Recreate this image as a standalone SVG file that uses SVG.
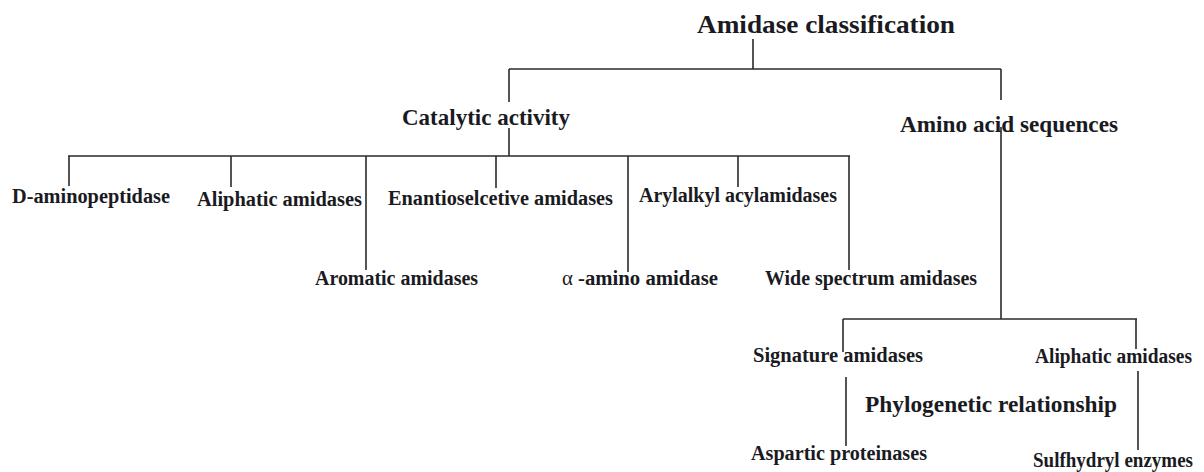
<svg xmlns="http://www.w3.org/2000/svg" width="1204" height="472" viewBox="0 0 1204 472">
<style>
  .bg { fill: #ffffff; }
  .conn line { stroke: #2a2a2a; stroke-width: 1.6; stroke-linecap: butt; }
  text { font-family: "Liberation Serif", "Times New Roman", serif; font-weight: bold; fill: #1a1a22; }
  .title { font-size: 26px; }
  .mid { font-size: 23px; }
  .leaf { font-size: 20px; }
  .greek { font-weight: normal; }
</style>
<rect class="bg" x="0" y="0" width="1204" height="472"/>

<g id="connectors" class="conn">
  <!-- root -->
  <line x1="753" y1="39" x2="753" y2="69"/>
  <line x1="509" y1="69" x2="1001" y2="69"/>
  <line x1="509" y1="69" x2="509" y2="102"/>
  <line x1="1001" y1="69" x2="1001" y2="100"/>
  <!-- catalytic activity -->
  <line x1="509" y1="128" x2="509" y2="156"/>
  <line x1="68" y1="156" x2="850" y2="156"/>
  <line x1="69" y1="156" x2="69" y2="186"/>
  <line x1="231" y1="156" x2="231" y2="187"/>
  <line x1="366" y1="156" x2="366" y2="270"/>
  <line x1="496" y1="156" x2="496" y2="188"/>
  <line x1="628" y1="156" x2="628" y2="272"/>
  <line x1="738" y1="156" x2="738" y2="187"/>
  <line x1="849" y1="156" x2="849" y2="270"/>
  <!-- amino acid sequences -->
  <line x1="1001" y1="127" x2="1001" y2="319"/>
  <line x1="843" y1="319" x2="1137" y2="319"/>
  <line x1="843" y1="319" x2="843" y2="352"/>
  <line x1="1136" y1="319" x2="1136" y2="349"/>
  <!-- phylogenetic -->
  <line x1="846" y1="377" x2="846" y2="446"/>
  <line x1="1138" y1="371" x2="1138" y2="450"/>
</g>

<g id="node-root"><text class="title" x="697" y="33" textLength="258" lengthAdjust="spacingAndGlyphs">Amidase classification</text></g>
<g id="node-catalytic"><text class="mid" x="402" y="125" textLength="168" lengthAdjust="spacingAndGlyphs">Catalytic activity</text></g>
<g id="node-amino"><text class="mid" x="900" y="132" textLength="218" lengthAdjust="spacingAndGlyphs">Amino acid sequences</text></g>

<g id="node-daminopeptidase"><text class="leaf" x="12" y="203" textLength="158" lengthAdjust="spacingAndGlyphs">D-aminopeptidase</text></g>
<g id="node-aliphatic1"><text class="leaf" x="197" y="206" textLength="165" lengthAdjust="spacingAndGlyphs">Aliphatic amidases</text></g>
<g id="node-enantio"><text class="leaf" x="388" y="205" textLength="225" lengthAdjust="spacingAndGlyphs">Enantioselcetive amidases</text></g>
<g id="node-arylalkyl"><text class="leaf" x="639" y="202" textLength="198" lengthAdjust="spacingAndGlyphs">Arylalkyl acylamidases</text></g>
<g id="node-aromatic"><text class="leaf" x="315" y="285" textLength="163" lengthAdjust="spacingAndGlyphs">Aromatic amidases</text></g>
<g id="node-alpha"><text class="leaf" x="562" y="285" textLength="156" lengthAdjust="spacingAndGlyphs"><tspan class="greek">α</tspan> -amino amidase</text></g>
<g id="node-wide"><text class="leaf" x="765" y="285" textLength="212" lengthAdjust="spacingAndGlyphs">Wide spectrum amidases</text></g>

<g id="node-signature"><text class="leaf" x="753" y="362" textLength="170" lengthAdjust="spacingAndGlyphs">Signature amidases</text></g>
<g id="node-aliphatic2"><text class="leaf" x="1035" y="363" textLength="157" lengthAdjust="spacingAndGlyphs">Aliphatic amidases</text></g>
<g id="node-phylo"><text class="mid" x="865" y="412" textLength="252" lengthAdjust="spacingAndGlyphs">Phylogenetic relationship</text></g>
<g id="node-aspartic"><text class="leaf" x="751" y="460" textLength="176" lengthAdjust="spacingAndGlyphs">Aspartic proteinases</text></g>
<g id="node-sulfhydryl"><text class="leaf" x="1033" y="467" textLength="160" lengthAdjust="spacingAndGlyphs">Sulfhydryl enzymes</text></g>
</svg>
